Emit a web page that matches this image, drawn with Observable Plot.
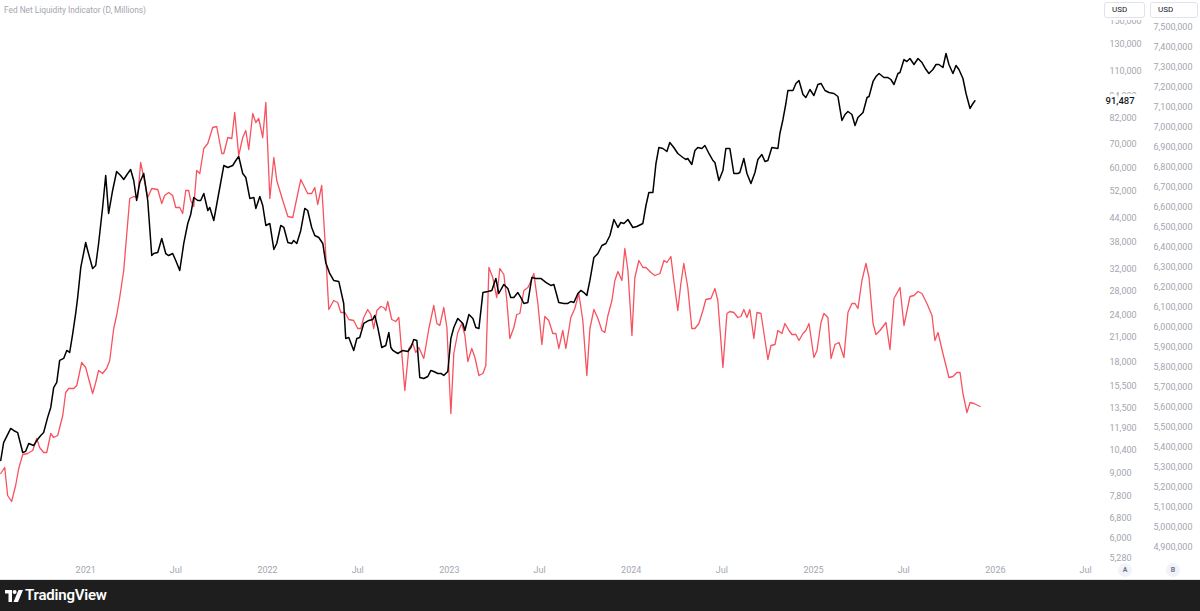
<!DOCTYPE html>
<html>
<head>
<meta charset="utf-8">
<script src="https://cdn.jsdelivr.net/npm/d3@7"></script>
<script src="https://cdn.jsdelivr.net/npm/@observablehq/plot@0.6"></script>
<style>
html,body{margin:0;padding:0;background:#fff;}
#wrap{position:relative;width:1200px;height:611px;overflow:hidden;font-family:Roboto,"Noto Sans",sans-serif;}
#chart{position:absolute;left:0;top:0;}
#title{position:absolute;left:4px;top:5px;font-size:8.3px;color:#a3a6af;white-space:nowrap;}
#axtop{position:absolute;left:1101px;top:0;width:99px;height:20px;background:#fff;}
.usd{position:absolute;top:2px;height:16px;border:1px solid #e0e3eb;border-radius:3px;background:#fff;font-size:8px;line-height:14px;color:#131722;padding-left:7px;box-sizing:border-box;}
.pane{position:absolute;top:563px;width:14px;height:14px;border-radius:7px;background:#f0f3fa;color:#6a6d78;font-size:7px;line-height:14px;text-align:center;font-weight:600;}
#footer{position:absolute;left:0;top:579px;width:1200px;height:32px;background:#1e1e1e;border-top:1px solid #e0e3eb;box-sizing:border-box;}
#brand{position:absolute;left:25px;top:6px;font-size:15px;font-weight:600;color:#fff;letter-spacing:-0.2px;}
#logo{position:absolute;left:5px;top:10px;}
</style>
</head>
<body>
<div id="wrap">
  <div id="chart"></div>
  <div id="title">Fed Net Liquidity Indicator (D, Millions)</div>
  <div id="axtop"></div>
  <div class="usd" style="left:1104px;width:41px;">USD</div>
  <div class="usd" style="left:1150px;width:48px;">USD</div>
  <div class="pane" style="left:1118px;">A</div>
  <div class="pane" style="left:1166px;">B</div>
  <div id="footer">
    <svg id="logo" width="18" height="12" viewBox="0 0 18 12">
      <path d="M0 0h7v12h-3.5v-8.5h-3.5z" fill="#fff"/>
      <circle cx="9.6" cy="2" r="2" fill="#fff"/>
      <path d="M13.5 0h4.5l-5 12h-4.5z" fill="#fff"/>
    </svg>
    <div id="brand">TradingView</div>
  </div>
</div>
<script>
// ---- Bitcoin price (black line, scale A, log) ----
const btcT = [2020.533,2020.549,2020.588,2020.604,2020.626,2020.654,2020.670,2020.687,2020.714,2020.731,
2020.753,2020.769,2020.791,2020.808,2020.824,2020.841,2020.857,2020.879,2020.896,2020.912,
2020.929,2020.945,2020.956,2020.973,2021.000,2021.011,2021.038,2021.055,2021.071,2021.093,
2021.110,2021.126,2021.148,2021.170,2021.192,2021.209,2021.231,2021.247,2021.264,2021.280,
2021.297,2021.319,2021.341,2021.363,2021.374,2021.396,2021.418,2021.440,2021.456,2021.478,
2021.495,2021.517,2021.539,2021.561,2021.577,2021.594,2021.616,2021.632,2021.649,2021.671,
2021.682,2021.704,2021.731,2021.759,2021.781,2021.808,2021.825,2021.841,2021.863,2021.880,
2021.902,2021.924,2021.935,2021.957,2021.973,2021.990,2022.012,2022.034,2022.050,2022.072,
2022.089,2022.111,2022.133,2022.143,2022.160,2022.182,2022.204,2022.220,2022.242,2022.259,
2022.281,2022.303,2022.319,2022.341,2022.363,2022.391,2022.418,2022.429,2022.446,2022.473,
2022.490,2022.506,2022.528,2022.556,2022.578,2022.589,2022.605,2022.627,2022.649,2022.666,
2022.677,2022.688,2022.715,2022.743,2022.770,2022.787,2022.803,2022.820,2022.836,2022.858,
2022.880,2022.897,2022.913,2022.935,2022.952,2022.968,2022.990,2023.007,2023.023,2023.045,
2023.073,2023.084,2023.106,2023.128,2023.144,2023.161,2023.183,2023.210,2023.232,2023.254,
2023.270,2023.298,2023.320,2023.336,2023.353,2023.375,2023.391,2023.408,2023.430,2023.452,
2023.474,2023.501,2023.529,2023.556,2023.573,2023.600,2023.628,2023.650,2023.666,2023.683,
2023.705,2023.721,2023.738,2023.754,2023.771,2023.793,2023.815,2023.837,2023.859,2023.881,
2023.903,2023.925,2023.941,2023.958,2023.980,2024.007,2024.029,2024.062,2024.079,2024.095,
2024.117,2024.134,2024.150,2024.172,2024.194,2024.210,2024.232,2024.254,2024.282,2024.298,
2024.309,2024.331,2024.348,2024.364,2024.386,2024.403,2024.425,2024.447,2024.458,2024.480,
2024.502,2024.518,2024.540,2024.562,2024.584,2024.595,2024.617,2024.634,2024.656,2024.678,
2024.694,2024.716,2024.733,2024.749,2024.771,2024.804,2024.815,2024.832,2024.848,2024.859,
2024.887,2024.903,2024.920,2024.942,2024.958,2024.980,2025.002,2025.024,2025.041,2025.063,
2025.085,2025.112,2025.134,2025.156,2025.173,2025.189,2025.211,2025.228,2025.244,2025.272,
2025.294,2025.305,2025.327,2025.343,2025.360,2025.387,2025.409,2025.425,2025.442,2025.464,
2025.475,2025.497,2025.513,2025.530,2025.552,2025.574,2025.596,2025.618,2025.634,2025.656,
2025.673,2025.689,2025.711,2025.728,2025.744,2025.766,2025.783,2025.799,2025.821,2025.838,
2025.860,2025.876,2025.887];
const btcV = [9730,10880,11880,11730,11580,10230,10300,10820,10680,11020,
11370,11580,12730,13540,15330,15820,18150,18380,19310,19070,
21470,24320,26870,32390,37840,36000,32190,32790,37610,47060,
57440,45340,52320,58890,57440,56030,58160,59630,55680,49160,
54990,58160,49160,34890,35330,35550,38800,35330,34890,35330,
33830,31790,37610,42600,45050,50090,49160,49160,51350,46190,
47060,43400,51350,61130,60380,61130,63070,64660,58160,56730,
49780,50090,46770,50400,47650,42070,42600,36230,37610,42070,
41550,37840,37610,38320,37610,40780,46770,46190,41550,39530,
39040,37610,33410,31200,29870,29690,25880,20810,20940,19310,
20810,20940,22850,23280,23430,24020,22290,19670,19920,21600,
19670,19310,18950,19310,19190,19670,20680,20550,16320,16220,
16420,17050,16940,16730,16730,16530,16940,20810,22290,23580,
22850,21870,24170,23580,22290,22150,27710,27890,28060,30250,
27540,29140,28420,26870,26870,27710,26870,25880,26040,30440,
30250,30250,29500,28960,29140,26040,25880,25880,26200,26040,
27540,28060,27710,27200,29870,34470,35330,37140,37610,39530,
43670,41550,42860,42600,43670,41550,41810,42600,47650,51670,
51670,61900,68390,67970,66710,70550,68390,65890,64260,63470,
63870,61520,67130,68390,67970,69260,65890,63070,62290,55680,
59260,67970,67970,58160,58160,58520,63870,58160,54650,58520,
63470,65480,62680,63070,68390,67970,74620,81430,89960,97550,
97550,101900,103820,95150,93380,98160,94550,101270,101900,97550,
96340,95750,93960,80920,84000,85590,84000,78440,82440,85050,
93380,93960,103180,106430,108450,105770,105770,104470,101270,108450,
109120,118320,116860,119070,114700,119070,116130,111180,108450,111180,
114700,114700,112570,122840,114700,108450,113980,111180,105120,95750,
87210,89960,91487];

// ---- Fed Net Liquidity (red line, scale B, linear, millions USD) ----
const fedT = [2020.533,2020.555,2020.571,2020.593,2020.615,2020.632,2020.654,2020.681,2020.709,2020.731,
2020.747,2020.769,2020.786,2020.808,2020.824,2020.846,2020.874,2020.890,2020.907,2020.934,
2020.951,2020.978,2021.000,2021.016,2021.038,2021.055,2021.071,2021.093,2021.115,2021.132,
2021.154,2021.170,2021.187,2021.209,2021.225,2021.242,2021.264,2021.286,2021.302,2021.319,
2021.341,2021.363,2021.396,2021.418,2021.434,2021.456,2021.478,2021.495,2021.517,2021.533,
2021.550,2021.566,2021.577,2021.594,2021.610,2021.627,2021.649,2021.671,2021.698,2021.720,
2021.748,2021.759,2021.781,2021.803,2021.819,2021.841,2021.863,2021.880,2021.896,2021.918,
2021.935,2021.951,2021.973,2021.990,2022.012,2022.034,2022.050,2022.078,2022.111,2022.138,
2022.182,2022.220,2022.242,2022.259,2022.275,2022.297,2022.314,2022.336,2022.363,2022.385,
2022.402,2022.424,2022.446,2022.473,2022.495,2022.512,2022.528,2022.550,2022.567,2022.583,
2022.600,2022.622,2022.638,2022.649,2022.660,2022.682,2022.704,2022.721,2022.754,2022.776,
2022.798,2022.814,2022.831,2022.858,2022.886,2022.913,2022.930,2022.946,2022.968,2022.985,
2023.007,2023.023,2023.045,2023.067,2023.084,2023.100,2023.122,2023.139,2023.161,2023.183,
2023.199,2023.216,2023.237,2023.259,2023.276,2023.298,2023.314,2023.331,2023.353,2023.369,
2023.386,2023.408,2023.430,2023.441,2023.463,2023.485,2023.507,2023.523,2023.545,2023.567,
2023.584,2023.600,2023.622,2023.639,2023.666,2023.688,2023.710,2023.732,2023.754,2023.771,
2023.793,2023.815,2023.837,2023.853,2023.870,2023.892,2023.908,2023.925,2023.947,2023.963,
2023.980,2024.002,2024.018,2024.040,2024.062,2024.079,2024.106,2024.128,2024.156,2024.178,
2024.194,2024.216,2024.232,2024.254,2024.271,2024.287,2024.309,2024.331,2024.348,2024.370,
2024.392,2024.408,2024.436,2024.458,2024.474,2024.502,2024.524,2024.540,2024.562,2024.584,
2024.601,2024.617,2024.634,2024.650,2024.672,2024.689,2024.711,2024.727,2024.749,2024.766,
2024.788,2024.804,2024.826,2024.843,2024.865,2024.881,2024.903,2024.920,2024.942,2024.958,
2024.975,2025.002,2025.019,2025.041,2025.057,2025.079,2025.096,2025.118,2025.140,2025.167,
2025.189,2025.211,2025.228,2025.244,2025.266,2025.288,2025.305,2025.327,2025.343,2025.365,
2025.398,2025.420,2025.442,2025.475,2025.497,2025.530,2025.552,2025.574,2025.596,2025.623,
2025.651,2025.667,2025.684,2025.711,2025.744,2025.766,2025.788,2025.805,2025.821,2025.843,
2025.860,2025.882,2025.904,2025.915];
const fedV = [5268500,5298500,5158500,5128500,5208500,5293500,5363500,5368500,5383500,5443500,
5398500,5373500,5373500,5468500,5448500,5458500,5558500,5673500,5693500,5693500,
5708500,5823500,5798500,5743500,5668500,5723500,5783500,5768500,5793500,5833500,
5993500,6058500,6148500,6283500,6458500,6643500,6653500,6648500,6823500,6748500,
6648500,6693500,6688500,6618500,6658500,6673500,6658500,6598500,6598500,6568500,
6683500,6683500,6633500,6603500,6783500,6768500,6893500,6918500,6998500,7003500,
6868500,6868500,6948500,6943500,7073500,6858500,6948500,6983500,6888500,7068500,
7023500,7043500,6948500,7123500,6643500,6848500,6733500,6648500,6553500,6548500,
6738500,6668500,6668500,6698500,6613500,6708500,6448500,6088500,6133500,6123500,
6073500,6073500,6038500,6033500,5993500,5993500,6048500,6088500,6063500,5993500,
6083500,6103500,6098500,6083500,6128500,6038500,6028500,6048500,5683500,5893500,
5918500,5873500,5898500,5843500,5993500,6108500,6018500,6008500,6098500,5998500,
5568500,5868500,5973500,6018500,5958500,5828500,5893500,5848500,5758500,5768500,
5808500,6298500,6248500,6148500,6293500,6263500,6138500,5943500,5998500,6063500,
6068500,6183500,6198500,6218500,6268500,6118500,5913500,6053500,6033500,5968500,
5968500,5893500,5983500,5893500,6048500,6093500,6168500,6033500,5758500,5993500,
6088500,6043500,5983500,5973500,6058500,6133500,6233500,6278500,6233500,6393500,
6283500,5958500,6248500,6333500,6298500,6298500,6273500,6258500,6268500,6333500,
6323500,6353500,6233500,6083500,6218500,6318500,6198500,5993500,5993500,6018500,
6083500,6138500,6143500,6193500,6133500,5798500,6068500,6078500,6073500,6048500,
6053500,6088500,6048500,6088500,5943500,6073500,6068500,5973500,5838500,5908500,
5913500,5983500,5968500,6018500,5983500,5963500,5963500,5933500,5968500,5983500,
6018500,5848500,5883500,6023500,6068500,6048500,5843500,5913500,5923500,5848500,
6073500,6118500,6118500,6093500,6233500,6318500,6248500,6018500,5963500,5983500,
6023500,5888500,6143500,6198500,6008500,6153500,6158500,6178500,6168500,6118500,
6058500,5933500,5973500,5868500,5748500,5753500,5773500,5773500,5668500,5573500,
5623500,5618500,5608500,5603500];

// ---- axis ticks ----
const ticksA = [150000,130000,110000,94000,82000,70000,60000,52000,44000,38000,32000,28000,24000,21000,18000,15500,13500,11900,10400,9000,7800,6800,6000,5280];
const ticksB = [7500000,7400000,7300000,7200000,7100000,7000000,6900000,6800000,6700000,6600000,6500000,6400000,6300000,6200000,6100000,6000000,5900000,5800000,5700000,5600000,5500000,5400000,5300000,5200000,5100000,5000000,4900000];
const xTickYears = [2021,2022,2023,2024,2025,2026];

// ---- scales ----
const btcDomain = [5218, 170900];          // price scale A (log)
const fedDomain = [4833500, 7633500];      // price scale B (linear), same pixel span
const lnLo = Math.log(btcDomain[0]), lnHi = Math.log(btcDomain[1]);
const toA = f => Math.exp(lnLo + (f - fedDomain[0]) / (fedDomain[1] - fedDomain[0]) * (lnHi - lnLo));
const fromA = v => fedDomain[0] + (Math.log(v) - lnLo) / (lnHi - lnLo) * (fedDomain[1] - fedDomain[0]);
const dec2date = t => new Date(Date.UTC(2021, 0, 1) + (t - 2021) * 365.25 * 86400000);

const btc = btcT.map((t, i) => ({date: dec2date(t), value: btcV[i]}));
const fed = fedT.map((t, i) => ({date: dec2date(t), value: fedV[i]}));
const last = btc[btc.length - 1];
const xTicks = xTickYears.flatMap(y => [new Date(Date.UTC(y, 0, 1)), new Date(Date.UTC(y, 6, 1))]);
const fmt = d3.format(",");

const chart = Plot.plot({
  width: 1200,
  height: 580,
  marginLeft: 0,
  marginRight: 100,
  marginTop: 0,
  marginBottom: 20,
  style: {fontFamily: "Roboto, 'Noto Sans', sans-serif", fontSize: "9px", color: "#a3a6af", background: "#fff", overflow: "visible"},
  x: {type: "utc", domain: [new Date(Date.UTC(2020, 6, 14)), new Date(Date.UTC(2026, 6, 31))]},
  y: {type: "log", domain: btcDomain},
  marks: [
    Plot.axisX(xTicks, {tickSize: 0, tickPadding: 6, tickFormat: d => d.getUTCMonth() === 0 ? String(d.getUTCFullYear()) : "Jul"}),
    Plot.axisY(ticksA, {anchor: "right", tickSize: 0, tickPadding: 9, textAnchor: "start", tickFormat: fmt}),
    Plot.axisY(ticksB.map(toA), {anchor: "right", tickSize: 0, tickPadding: 53, textAnchor: "start", tickFormat: d => fmt(Math.round(fromA(d) / 1e5) * 1e5)}),
    Plot.line(fed, {x: "date", y: d => toA(d.value), stroke: "#f7525f", strokeWidth: 1.3}),
    Plot.line(btc, {x: "date", y: "value", stroke: "#000", strokeWidth: 1.5}),
    Plot.text([last], {y: "value", text: d => fmt(d.value), frameAnchor: "right", dx: 5, textAnchor: "start", fill: "#131722", fontSize: 9.5, fontWeight: 500, stroke: "#fff", strokeWidth: 6, paintOrder: "stroke"})
  ]
});
document.getElementById("chart").appendChild(chart);
</script>
</body>
</html>
